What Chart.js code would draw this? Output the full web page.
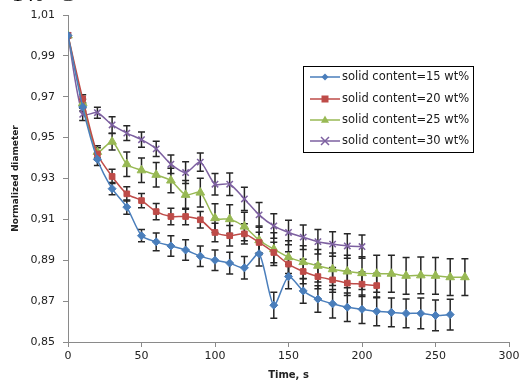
<!DOCTYPE html>
<html><head><meta charset="utf-8">
<script src="https://cdn.jsdelivr.net/npm/chart.js@4.4.0/dist/chart.umd.min.js"></script>
<style>
html,body{margin:0;padding:0;background:#fff;overflow:hidden}
#wrap{position:relative;width:528px;height:381px}
#t{position:absolute;left:12px;top:-17px;font:22px 'Liberation Serif';line-height:1;color:#000;white-space:nowrap}
</style></head><body>
<div id="wrap"><canvas id="c" width="528" height="381"></canvas><div id="t">140 °C</div></div>
<script>
const times = [0,10,20,30,40,50,60,70,80,90,100,110,120,130,140,150,160,170,180,190,200,210,220,230,240,250,260,270];
const seriesNames = ['solid content=15 wt%','solid content=20 wt%','solid content=25 wt%','solid content=30 wt%'];
const d15 = [1.000,0.965,0.9394,0.925,0.916,0.902,0.899,0.897,0.895,0.892,0.890,0.8886,0.8863,0.8932,0.868,0.882,0.875,0.871,0.8687,0.867,0.866,0.865,0.8645,0.864,0.864,0.863,0.8634];
const e15 = [0,0.002,0.003,0.003,0.0035,0.003,0.0043,0.005,0.005,0.005,0.005,0.0053,0.0055,0.006,0.0064,0.006,0.006,0.0065,0.007,0.007,0.007,0.007,0.007,0.007,0.0075,0.0075,0.0075];
const d20 = [1.000,0.969,0.942,0.931,0.9225,0.9192,0.9138,0.9114,0.9114,0.9098,0.9036,0.902,0.9029,0.8987,0.8938,0.8881,0.8845,0.882,0.8804,0.8788,0.8783,0.8776];
const e20 = [0,0.002,0.003,0.0035,0.0035,0.0035,0.004,0.004,0.004,0.004,0.0045,0.005,0.005,0.005,0.005,0.006,0.006,0.006,0.006,0.006,0.006,0.006];
const d25 = [1.000,0.9668,0.943,0.948,0.937,0.934,0.9318,0.929,0.922,0.9231,0.9106,0.9101,0.9065,0.8998,0.8954,0.8915,0.8891,0.8873,0.8856,0.8845,0.8837,0.8834,0.8834,0.8824,0.8826,0.8824,0.8817,0.8817];
const e25 = [0,0.002,0.003,0.004,0.006,0.006,0.006,0.006,0.007,0.007,0.007,0.007,0.007,0.007,0.008,0.008,0.008,0.008,0.008,0.008,0.008,0.009,0.009,0.009,0.009,0.009,0.009,0.009];
const d30 = [1.000,0.9614,0.9622,0.9562,0.9522,0.949,0.9445,0.937,0.9329,0.938,0.9272,0.9272,0.920,0.9122,0.9068,0.9036,0.9013,0.8991,0.8979,0.897,0.8967];
const e30 = [0,0.003,0.0027,0.004,0.0036,0.0037,0.0037,0.0045,0.0053,0.0045,0.0053,0.0055,0.0057,0.006,0.006,0.006,0.006,0.006,0.006,0.006,0.0057];
const yTicks = [0.85,0.87,0.89,0.91,0.93,0.95,0.97,0.99,1.01];
const xTicks = [0,50,100,150,200,250,300];

const colors = ['#4A7EBB','#BE4B48','#98B954','#7D60A0'];
const styles = ['rectRot','rect','triangle','crossRot'];
const radii = [4,4,5,4.5];
const vals = [d15,d20,d25,d30];
const errs = [e15,e20,e25,e30];

function pts(v){ return v.map((y,i)=>({x:times[i], y:y})); }

function marker(ctx, st, x, y, r, col){
  ctx.save(); ctx.fillStyle=col; ctx.strokeStyle=col; ctx.lineWidth=1.5;
  ctx.beginPath();
  if(st==='rectRot'){ ctx.moveTo(x,y-r); ctx.lineTo(x+r,y); ctx.lineTo(x,y+r); ctx.lineTo(x-r,y); ctx.closePath(); ctx.fill(); }
  else if(st==='rect'){ ctx.rect(x-r,y-r,2*r,2*r); ctx.fill(); }
  else if(st==='triangle'){ ctx.moveTo(x,y-r); ctx.lineTo(x+r*0.9,y+r*0.6); ctx.lineTo(x-r*0.9,y+r*0.6); ctx.closePath(); ctx.fill(); }
  else { ctx.moveTo(x-r,y-r); ctx.lineTo(x+r,y+r); ctx.moveTo(x+r,y-r); ctx.lineTo(x-r,y+r); ctx.stroke(); }
  ctx.restore();
}

const errPlugin = {
  id:'errbars',
  beforeDatasetsDraw(chart){
    const ctx=chart.ctx, ys=chart.scales.y;
    ctx.save(); ctx.strokeStyle='#262626'; ctx.lineWidth=1.5;
    chart.data.datasets.forEach((ds,di)=>{
      const meta=chart.getDatasetMeta(di);
      ds.errors.forEach((e,i)=>{
        if(!e) return;
        const p=meta.data[i]; const v=ds.data[i].y;
        const y1=ys.getPixelForValue(v+e), y2=ys.getPixelForValue(v-e), x=p.x;
        ctx.beginPath();
        ctx.moveTo(x,y1); ctx.lineTo(x,y2);
        ctx.moveTo(x-3.5,y1); ctx.lineTo(x+3.5,y1);
        ctx.moveTo(x-3.5,y2); ctx.lineTo(x+3.5,y2);
        ctx.stroke();
      });
    });
    ctx.restore();
  }
};

const legendPlugin = {
  id:'boxlegend',
  afterDraw(chart){
    const ctx=chart.ctx;
    ctx.save();
    ctx.fillStyle='#fff'; ctx.fillRect(303.5,66.5,170,86);
    ctx.strokeStyle='#000'; ctx.lineWidth=1; ctx.strokeRect(303.5,66.5,170,86);
    const ys=[77,99,120,141];
    ctx.font='11.5px "DejaVu Sans"'; ctx.textBaseline='middle'; ctx.textAlign='left';
    seriesNames.forEach((n,i)=>{
      const y=ys[i];
      ctx.strokeStyle=colors[i]; ctx.lineWidth=1.5;
      ctx.beginPath(); ctx.moveTo(310,y); ctx.lineTo(340,y); ctx.stroke();
      marker(ctx, styles[i], 325, y, radii[i]-0.5, colors[i]);
      ctx.fillStyle='#1a1a1a'; ctx.fillText(n, 342, y);
    });
    ctx.restore();
  }
};

const datasets = vals.map((v,i)=>({
  label: seriesNames[i],
  data: pts(v),
  errors: errs[i],
  borderColor: colors[i],
  backgroundColor: colors[i],
  borderWidth: 1.5,
  pointStyle: styles[i],
  pointRadius: radii[i],
  pointBorderWidth: i===3 ? 1.5 : 1,
  pointBorderColor: colors[i],
  pointBackgroundColor: colors[i],
  tension: 0.25,
  fill: false
}));

new Chart(document.getElementById('c'), {
  type:'line',
  data:{datasets},
  options:{
    responsive:false, animation:false,
    layout:{padding:{top:15,right:19,left:0,bottom:0}},
    plugins:{legend:{display:false}, tooltip:{enabled:false}},
    scales:{
      x:{type:'linear', min:0, max:300,
        afterBuildTicks:s=>{ s.ticks = xTicks.map(v=>({value:v})); },
        ticks:{font:{family:'DejaVu Sans', size:11}, color:'#222', padding:3, maxRotation:0, autoSkip:false},
        grid:{drawOnChartArea:false, tickLength:5, color:'#8a8a8a'},
        border:{color:'#8a8a8a'},
        title:{display:true, text:'Time, s', font:{family:'DejaVu Sans', size:10, weight:'bold'}, color:'#222', padding:0},
        afterFit:s=>{ s.height=39; }
      },
      y:{type:'linear', min:0.85, max:1.01,
        afterBuildTicks:s=>{ s.ticks = yTicks.map(v=>({value:v})); },
        ticks:{font:{family:'DejaVu Sans', size:11}, color:'#222', padding:8, autoSkip:false,
          callback:v=>v.toFixed(2).replace('.',',')},
        grid:{drawOnChartArea:false, tickLength:5, color:'#8a8a8a'},
        border:{color:'#8a8a8a'},
        title:{display:true, text:'Normalized diameter', font:{family:'DejaVu Sans', size:9, weight:'bold'}, color:'#222', padding:{top:10,bottom:0}},
        afterFit:s=>{ s.width=68; }
      }
    }
  },
  plugins:[errPlugin, legendPlugin]
});
</script>
</body></html>
